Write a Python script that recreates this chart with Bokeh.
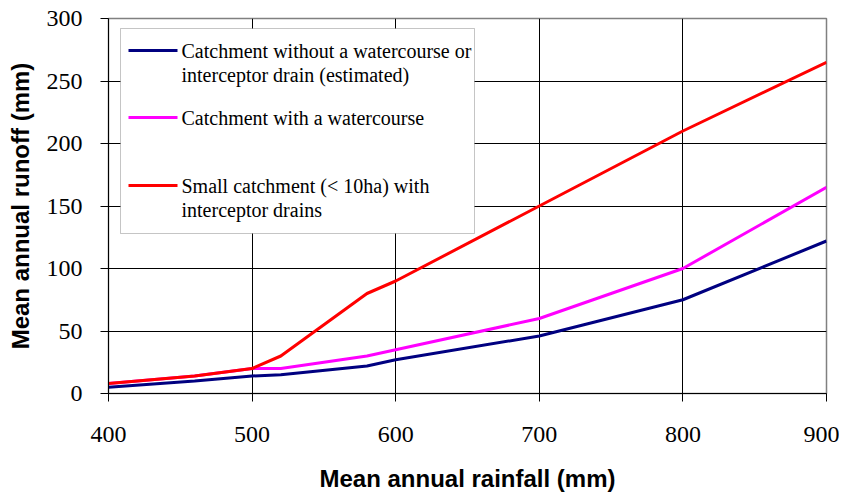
from bokeh.plotting import figure
from bokeh.models import FixedTicker, ColumnDataSource, Label, BoxAnnotation, PolyAnnotation
from bokeh.embed import file_html
from bokeh.resources import INLINE

rainfall = [400, 460, 500, 520, 580, 600, 700, 800, 900]
no_watercourse = [5, 10, 14, 15, 22, 27, 46, 75, 122]
with_watercourse = [8, 14, 20, 20, 30, 35, 60, 100, 165]
small_catchment = [8, 14, 20, 30, 80, 90, 150, 210, 265]

labels = [
    ["Catchment without a watercourse or", "interceptor drain (estimated)"],
    ["Catchment with a watercourse"],
    ["Small catchment (< 10ha) with", "interceptor drains"],
]
colors = ["#000080", "#FF00FF", "#FF0000"]

x_ticks = [400, 500, 600, 700, 800, 900]
y_ticks = [0, 50, 100, 150, 200, 250, 300]

p = figure(width=839, height=494, output_backend="svg", toolbar_location=None,
           x_range=(400, 900), y_range=(0, 300),
           min_border_left=108, min_border_right=13, min_border_top=18, min_border_bottom=101)
p.background_fill_color = "white"
p.border_fill_color = "white"
p.outline_line_color = "#808080"
p.outline_line_width = 1.5

sans = "Liberation Sans"
serif = "Liberation Serif"

p.xaxis.ticker = FixedTicker(ticks=x_ticks)
p.yaxis.ticker = FixedTicker(ticks=y_ticks)
p.xgrid.ticker = FixedTicker(ticks=x_ticks[1:-1])
p.ygrid.ticker = FixedTicker(ticks=y_ticks[1:-1])
p.xgrid.grid_line_color = "black"
p.ygrid.grid_line_color = "black"
p.xgrid.grid_line_width = 1
p.ygrid.grid_line_width = 1

for ax in (p.xaxis[0], p.yaxis[0]):
    ax.axis_line_color = "black"
    ax.axis_line_width = 1
    ax.major_tick_line_color = "black"
    ax.major_tick_in = 0
    ax.major_tick_out = 8
    ax.minor_tick_line_color = None
    ax.major_label_text_font = serif
    ax.major_label_text_font_size = "24px"
    ax.major_label_text_color = "black"
    ax.axis_label_text_font = sans
    ax.axis_label_text_font_style = "bold"
    ax.axis_label_text_font_size = "24px"
    ax.axis_label_text_color = "black"

p.xaxis.axis_label = "Mean annual rainfall (mm)"
p.yaxis.axis_label = "Mean annual runoff (mm)"
p.xaxis.major_label_standoff = 25
p.xaxis.axis_label_standoff = 20
p.yaxis.major_label_standoff = 18
p.yaxis.axis_label_standoff = 10

src = ColumnDataSource(dict(x=rainfall, a=no_watercourse, b=with_watercourse, c=small_catchment))
for col, color in zip(["a", "b", "c"], colors):
    p.line("x", col, source=src, line_color=color, line_width=3)

# Legend (screen units relative to the plot frame)
box = BoxAnnotation(left=12, right=366, top=365, bottom=160,
                    left_units="screen", right_units="screen",
                    top_units="screen", bottom_units="screen",
                    fill_color="white", fill_alpha=1,
                    line_color="#404040", line_width=1, level="annotation")
p.add_layout(box)

item_y = [343, 276, 208]
line_gap = 24
for lines, color, y in zip(labels, colors, item_y):
    p.add_layout(PolyAnnotation(xs=[20, 69, 69, 20], ys=[y, y, y, y],
                                xs_units="screen", ys_units="screen",
                                line_color=color, line_alpha=1, line_width=3,
                                fill_alpha=0, level="annotation"))
    for i, t in enumerate(lines):
        p.add_layout(Label(x=73, y=y - i * line_gap, x_units="screen", y_units="screen",
                           text=t, text_font=serif, text_font_size="20px",
                           text_color="black", text_baseline="middle", text_align="left",
                           level="annotation"))

open("out.html", "w").write(file_html(p, INLINE))
